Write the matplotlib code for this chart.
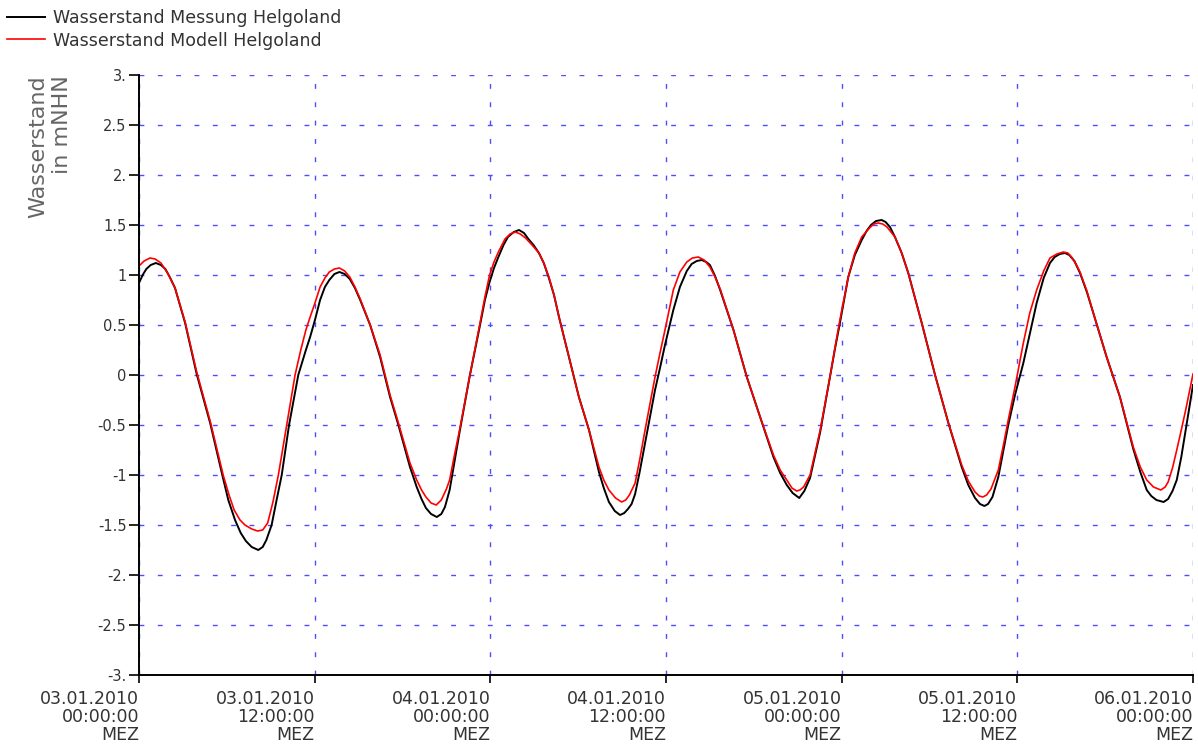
import pandas as pd
import matplotlib.pyplot as plt

# Wasserstand Helgoland, 03.01.2010 - 06.01.2010 (Stunden ab 03.01.2010 00:00 MEZ, Wert in m NHN)
mess_h = [0.0, 0.25, 0.5, 0.8, 1.15, 1.5, 1.8, 2.1, 2.46, 3.15, 3.94, 4.86, 5.69, 6.1, 6.56,
          6.95, 7.3, 7.7, 8.15, 8.45, 8.7, 9.06, 9.4, 9.75, 10.25, 10.88, 11.4, 11.69, 12.02,
          12.37, 12.7, 13.0, 13.35, 13.69, 14.05, 14.4, 14.75, 15.11, 15.79, 16.47, 17.15,
          17.72, 18.51, 18.97, 19.3, 19.6, 19.95, 20.34, 20.65, 20.9, 21.22, 21.55, 21.9,
          22.58, 23.27, 23.63, 23.95, 24.25, 24.55, 24.9, 25.2, 25.6, 25.96, 26.3, 26.6,
          26.95, 27.32, 27.65, 28.0, 28.35, 28.69, 29.37, 30.05, 30.74, 31.42, 31.75, 32.1,
          32.5, 32.86, 33.15, 33.4, 33.65, 33.89, 34.2, 34.57, 35.25, 35.59, 35.93, 36.5,
          36.95, 37.42, 37.75, 38.1, 38.44, 38.75, 39.0, 39.35, 39.7, 40.61, 41.52, 42.43,
          43.34, 43.8, 44.25, 44.65, 45.1, 45.45, 45.84, 46.52, 47.2, 47.54, 47.88, 48.45,
          48.9, 49.37, 49.7, 50.0, 50.35, 50.73, 51.0, 51.3, 51.64, 52.1, 52.55, 53.47,
          54.38, 55.29, 56.2, 56.65, 57.11, 57.45, 57.75, 58.0, 58.3, 58.7, 59.05, 59.38,
          59.84, 60.41, 61.32, 61.8, 62.23, 62.55, 62.9, 63.25, 63.55, 63.9, 64.28, 64.75,
          65.19, 66.1, 67.01, 67.92, 68.4, 68.84, 69.15, 69.5, 69.99, 70.3, 70.6, 70.89,
          71.2, 71.5, 71.75, 72.0]
mess_w = [0.92, 1.0, 1.06, 1.1, 1.12, 1.1, 1.06, 0.98, 0.87, 0.52, 0.01, -0.48, -1.0, -1.25, -1.45,
          -1.58, -1.66, -1.72, -1.75, -1.72, -1.65, -1.5, -1.25, -1.0, -0.5, 0.0, 0.25, 0.38, 0.55,
          0.75, 0.88, 0.95, 1.01, 1.03, 1.01, 0.96, 0.87, 0.75, 0.5, 0.18, -0.22,
          -0.5, -0.92, -1.12, -1.24, -1.33, -1.39, -1.42, -1.39, -1.32, -1.15, -0.87, -0.57,
          -0.02, 0.48, 0.75, 0.93, 1.07, 1.18, 1.3, 1.38, 1.43, 1.45, 1.42, 1.36,
          1.3, 1.22, 1.12, 0.97, 0.8, 0.58, 0.18, -0.22, -0.55, -0.97, -1.13, -1.27,
          -1.36, -1.4, -1.38, -1.34, -1.29, -1.19, -0.97, -0.68, -0.15, 0.07, 0.3, 0.65,
          0.88, 1.04, 1.11, 1.14, 1.15, 1.13, 1.1, 0.99, 0.85, 0.45, -0.02, -0.42,
          -0.82, -0.98, -1.1, -1.18, -1.23, -1.16, -1.03, -0.58, -0.02, 0.26, 0.52, 0.98,
          1.2, 1.35, 1.44, 1.5, 1.54, 1.55, 1.53, 1.48, 1.38, 1.22, 1.02, 0.52,
          0.0, -0.48, -0.92, -1.1, -1.23, -1.29, -1.31, -1.29, -1.22, -1.02, -0.75, -0.5,
          -0.2, 0.12, 0.72, 0.97, 1.12, 1.18, 1.21, 1.22, 1.2, 1.14, 1.02, 0.83,
          0.62, 0.18, -0.22, -0.74, -0.97, -1.15, -1.21, -1.25, -1.27, -1.24, -1.16, -1.05,
          -0.82, -0.55, -0.32, -0.1]

modell_h = [0.0, 0.35, 0.75, 1.1, 1.5, 1.95, 2.46, 3.15, 3.94, 4.86, 5.75, 6.15, 6.5, 6.9,
            7.24, 7.7, 8.1, 8.45, 8.79, 9.15, 9.52, 10.09, 10.66, 11.05, 11.4, 11.69, 12.02,
            12.37, 12.7, 13.0, 13.35, 13.69, 14.05, 14.4, 14.75, 15.11, 15.79, 16.47, 17.15,
            17.72, 18.51, 18.97, 19.3, 19.6, 19.95, 20.3, 20.65, 21.0, 21.22, 21.55, 21.9,
            22.58, 23.27, 23.63, 23.95, 24.25, 24.55, 25.0, 25.35, 25.7, 26.05, 26.4, 26.85,
            27.32, 27.65, 28.0, 28.35, 28.69, 29.37, 30.05, 30.74, 31.42, 31.75, 32.1, 32.55,
            32.97, 33.25, 33.5, 33.89, 34.2, 34.57, 35.25, 35.59, 35.93, 36.5, 36.95, 37.42,
            37.8, 38.21, 38.6, 39.0, 39.35, 39.7, 40.61, 41.52, 42.43, 43.34, 43.8, 44.25,
            44.6, 44.93, 45.15, 45.4, 45.84, 46.52, 47.2, 47.54, 47.88, 48.45, 48.9, 49.37,
            49.9, 50.2, 50.5, 50.8, 51.1, 51.64, 52.1, 52.55, 53.47, 54.38, 55.29, 56.2,
            56.65, 57.11, 57.4, 57.64, 57.9, 58.2, 58.7, 59.05, 59.38, 59.84, 60.41, 60.85,
            61.32, 61.8, 62.23, 62.7, 63.14, 63.45, 63.7, 64.0, 64.28, 64.75, 65.19, 66.1,
            67.01, 67.92, 68.4, 68.84, 69.3, 69.8, 70.1, 70.3, 70.6, 70.89, 71.2, 71.5,
            71.75, 72.0]
modell_w = [1.09, 1.14, 1.17, 1.16, 1.12, 1.02, 0.87, 0.53, 0.03, -0.46, -1.0, -1.2, -1.35, -1.45,
            -1.5, -1.54, -1.56, -1.55, -1.48, -1.27, -1.0, -0.5, 0.0, 0.25, 0.45, 0.58, 0.72,
            0.88, 0.97, 1.03, 1.06, 1.07, 1.04, 0.98, 0.88, 0.76, 0.5, 0.2, -0.2,
            -0.48, -0.88, -1.05, -1.15, -1.22, -1.28, -1.3, -1.25, -1.14, -1.05, -0.8, -0.55,
            -0.02, 0.5, 0.78, 1.0, 1.13, 1.23, 1.36, 1.41, 1.43, 1.41, 1.37, 1.3,
            1.22, 1.12, 0.98, 0.8, 0.58, 0.18, -0.22, -0.55, -0.92, -1.05, -1.15, -1.23,
            -1.27, -1.25, -1.2, -1.08, -0.85, -0.55, -0.02, 0.22, 0.45, 0.85, 1.03, 1.13,
            1.17, 1.18, 1.15, 1.08, 0.98, 0.86, 0.45, -0.02, -0.42, -0.8, -0.95, -1.05,
            -1.13, -1.16, -1.15, -1.12, -1.0, -0.56, -0.02, 0.27, 0.55, 0.98, 1.22, 1.38,
            1.47, 1.51, 1.52, 1.51, 1.48, 1.38, 1.22, 1.02, 0.52, 0.0, -0.48, -0.9,
            -1.06, -1.17, -1.21, -1.22, -1.2, -1.14, -0.95, -0.7, -0.45, -0.12, 0.32, 0.62,
            0.85, 1.04, 1.17, 1.21, 1.23, 1.22, 1.18, 1.11, 1.03, 0.84, 0.62, 0.18,
            -0.22, -0.72, -0.92, -1.05, -1.12, -1.15, -1.12, -1.07, -0.93, -0.75, -0.55, -0.35,
            -0.17, 0.01]

tick_hours = [0, 12, 24, 36, 48, 60, 72]
tick_labels = ['03.01.2010\n00:00:00\nMEZ', '03.01.2010\n12:00:00\nMEZ',
               '04.01.2010\n00:00:00\nMEZ', '04.01.2010\n12:00:00\nMEZ',
               '05.01.2010\n00:00:00\nMEZ', '05.01.2010\n12:00:00\nMEZ',
               '06.01.2010\n00:00:00\nMEZ']
y_ticks = [3, 2.5, 2, 1.5, 1, 0.5, 0, -0.5, -1, -1.5, -2, -2.5, -3]
y_tick_labels = ['3.', '2.5', '2.', '1.5', '1', '0.5', '0', '-0.5', '-1', '-1.5', '-2.', '-2.5', '-3.']

start = pd.Timestamp('2010-01-03 00:00')
def to_time(hours):
    return start + pd.to_timedelta(hours, unit='h')

plt.rcParams['font.family'] = 'DejaVu Sans'
plt.rcParams['lines.scale_dashes'] = False

fig = plt.figure(figsize=(11.98, 7.48), dpi=100)
ax = fig.add_axes([139 / 1198, 1 - 675 / 748, 1054 / 1198, 600 / 748])

ax.plot(to_time(mess_h), mess_w, color='black', lw=1.4, label='Wasserstand Messung Helgoland')
ax.plot(to_time(modell_h), modell_w, color='#ff0000', lw=1.2, label='Wasserstand Modell Helgoland')

ax.set_xlim(to_time(0), to_time(72))
ax.set_ylim(-3, 3)
ax.set_xticks(to_time(tick_hours))
ax.set_xticklabels(tick_labels, ha='right', ma='right', linespacing=1.0,
                   fontsize=12.5, color='#333333')
ax.set_yticks(y_ticks)
ax.set_yticklabels(y_tick_labels, fontsize=10.5, color='#333333')

ax.grid(True, color='#4d4dff', lw=1.0, linestyle=(0, (3.5, 9.7)))
ax.tick_params(axis='x', direction='out', length=6, width=1.2, pad=5)
ax.tick_params(axis='y', direction='out', length=7, width=1.2, pad=2)
for side in ['top', 'right']:
    ax.spines[side].set_visible(False)
for side in ['left', 'bottom']:
    ax.spines[side].set_linewidth(1.4)

fig.text(50 / 1198, 1 - 75 / 748, 'Wasserstand\nin mNHN', rotation=90, ha='center', va='top',
         ma='right', fontsize=16, color='#666666', linespacing=1.2)

fig.legend(loc='upper left', bbox_to_anchor=(0, 0.997), frameon=False, fontsize=12.5,
           handlelength=2.2, handletextpad=0.45, borderaxespad=0.2, borderpad=0.2,
           labelspacing=0.25, labelcolor='#333333')

plt.savefig('out.png', dpi=100)
